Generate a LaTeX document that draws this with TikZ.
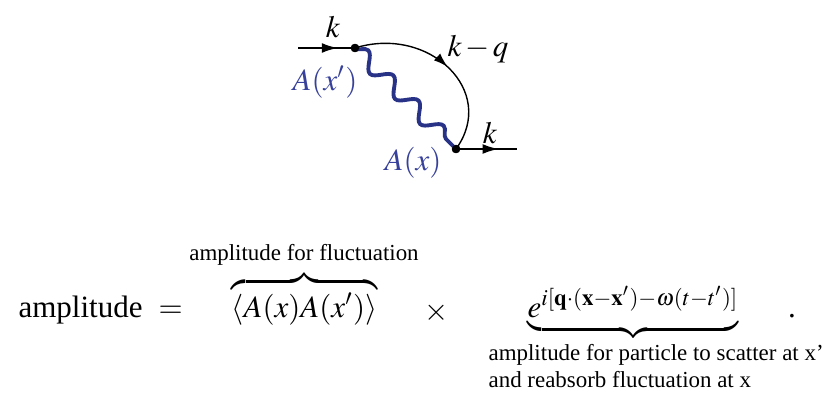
\documentclass[tikz,border=0pt]{standalone}
\usepackage{mathptmx}
\usepackage{fontspec}
\setmainfont{Liberation Serif}
\usetikzlibrary{arrows.meta,decorations.pathmorphing,decorations.markings}
\definecolor{wavecol}{RGB}{40,50,135}
\definecolor{labcol}{RGB}{55,65,155}
\tikzset{
  big/.style={inner sep=0pt, font=\fontsize{10}{12}\selectfont},
  small/.style={inner sep=0pt, font=\fontsize{7.4}{9}\selectfont},
  vtx/.style={circle, fill=black, inner sep=0pt, minimum size=2.7pt},
  ext/.style={line width=0.62pt, postaction={decorate},
    decoration={markings, mark=at position #1 with {\arrow{Latex[length=5.2pt,width=3.2pt]}}}},
  prop/.style={line width=0.45pt, postaction={decorate},
    decoration={markings, mark=at position 0.52 with {\arrow{Latex[length=4.6pt,width=3pt]}}}},
  photon/.style={draw=wavecol, line width=1.25pt, decorate,
    decoration={snake, segment length=11.45pt, amplitude=2.5pt}},
  bluelab/.style={big, text=labcol}
}
\begin{document}
\begin{tikzpicture}[x=0.3226pt, y=-0.3226pt]
\useasboundingbox (0,0) rectangle (836,408);
% diagram
\coordinate (in) at (298,48);
\node[vtx] (xp) at (355,48) {};
\node[vtx] (xx) at (456,149) {};
\coordinate (out) at (517,149);
\draw[photon] (xp.center) -- (xx.center);
\draw[ext=0.7] (in) -- (xp.center);
\draw[ext=0.7] (xx.center) -- (out);
\draw[prop] (xp.center) .. controls +(74,-23) and +(42,-58) .. (xx.center);
\node[vtx] at (xp) {};
\node[vtx] at (xx) {};
\node[big] (k1) at (333,27) {$k$};
\node[big] (k2) at (490,133) {$k$};
\node[big] (kq) at (478,49) {$k\,{-}\,q$};
\node[bluelab] (Axp) at (325,82) {$A(x')$};
\node[bluelab] (Ax) at (413,163) {$A(x)$};
% formula
\node[big, anchor=base west] (amp) at (18,318) {amplitude};
\node[big, anchor=base west] (eq) at (158,318) {$=$};
\node[big, anchor=base west] (corr) at (231,318) {$\overbrace{\langle A(x)A(x')\rangle}$};
\node[small, anchor=base] (flabel) at (304,260) {amplitude for fluctuation};
\node[big] (times) at (437,313) {$\times$};
\node[big, anchor=base west] (phase) at (527,318) {$\underbrace{e^{i[\mathbf{q}\cdot(\mathbf{x}-\mathbf{x}')-\omega(t-t')]}}$};
\node[big, anchor=base] (period) at (792,318) {.};
\node[small, anchor=base west] (pl1) at (488,361) {amplitude for particle to scatter at x’};
\node[small, anchor=base west] (pl2) at (488,388) {and reabsorb fluctuation at x};
\end{tikzpicture}
\end{document}
